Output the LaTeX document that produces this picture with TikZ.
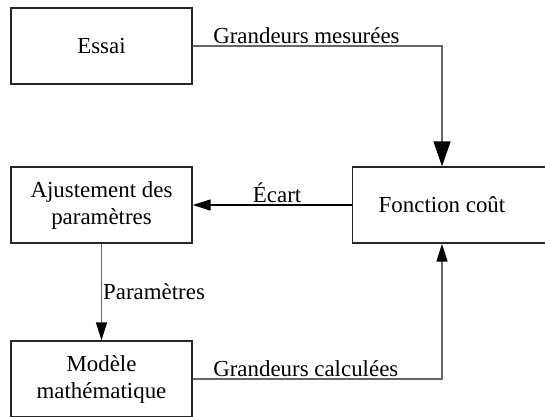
\documentclass[tikz,border=0pt]{standalone}
\usepackage{fontspec}
\setmainfont{Liberation Serif}
\usetikzlibrary{arrows.meta,positioning}

\tikzset{
  boite/.style={draw=black!85, line width=1.3pt, minimum width=181pt, minimum height=76pt,
    align=center, inner sep=0pt},
  fleche/.style={draw=black!60, line width=1.4pt, -{Triangle[length=18pt,width=11pt,color=black]}},
}

\begin{document}
\begin{tikzpicture}[x=1pt, y=-1pt, font=\fontsize{22.9}{27}\selectfont]
                %frame of the picture, the right box and the bottom box run past it
                \useasboundingbox (0,0) rectangle (545,416);
                \clip (0,0) rectangle (545,416);

                %the four blocks
                \node[boite] (essai) at (101.5,46) {Essai};
                \node[boite] (ajust) at (101.5,205) {Ajustement des\\paramètres};
                \node[boite] (modele) at (101.5,379) {Modèle\\mathématique};
                \node[boite, minimum width=200pt, anchor=west] (cout) at (352,205) {};
                \node (couttxt) at (442,205) {Fonction coût};

                %measured and computed quantities go to the cost function
                \draw[fleche, -{Triangle[length=25pt,width=17pt,color=black]}]
                (essai.east) -| (couttxt |- cout.north)
                node[pos=0.04, above right, inner xsep=0pt, inner ysep=2pt] {Grandeurs mesurées};
                \draw[fleche]
                (modele.east) -| (couttxt |- cout.south)
                node[pos=0.04, above right, inner xsep=0pt, inner ysep=2pt] {Grandeurs calculées};

                %feedback to the parameters
                \draw[fleche, draw=black] (cout.west) -- (ajust.east)
                node[pos=0.47, above, inner ysep=2pt] {Écart};
                \draw[fleche] (ajust.south) -- (modele.north)
                node[midway, right, inner xsep=1pt] {Paramètres};
\end{tikzpicture}
\end{document}
